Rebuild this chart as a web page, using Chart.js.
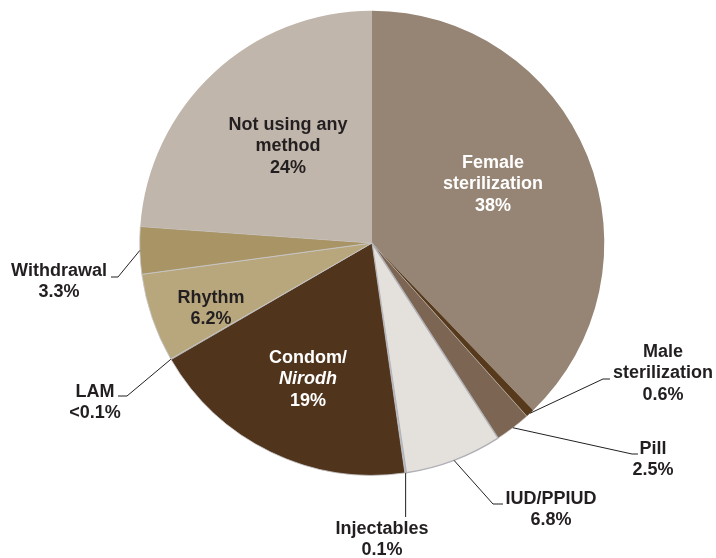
<!DOCTYPE html>
<html>
<head>
<meta charset="utf-8">
<script src="https://cdn.jsdelivr.net/npm/chart.js@4"></script>
<style>
  html, body { margin: 0; padding: 0; background: #fff; }
</style>
</head>
<body>
<canvas id="method-chart" width="716" height="558"></canvas>
<script>
// contraceptive method mix (%)
const methods = [
  'Female sterilization', 'Male sterilization', 'Pill', 'IUD/PPIUD', 'Injectables',
  'Condom/Nirodh', 'LAM', 'Rhythm', 'Withdrawal', 'Not using any method'
];
const shares = [38, 0.6, 2.5, 6.8, 0.1, 19, 0.05, 6.2, 3.3, 24];
const shareText = ['38%', '0.6%', '2.5%', '6.8%', '0.1%', '19%', '<0.1%', '6.2%', '3.3%', '24%'];

const sliceColors = [
  '#968474', '#573a1c', '#7c6653', '#e4e1dc', '#b4b8c2',
  '#50341b', '#8a8a8a', '#b8a77d', '#a99465', '#c0b6ac'
];

// label placement: lines of text, text centre, colour, optional leader elbow points
// (a null x in an elbow means "straight down from the slice")
const labelLayout = [
  { lines: ['Female', 'sterilization'], x: 493, y: 163, color: '#ffffff' },
  { lines: ['Male', 'sterilization'], x: 663, y: 352, color: '#231f20', leader: [[603, 379], [610, 379]] },
  { lines: ['Pill'], x: 653, y: 449, color: '#231f20', leader: [[632, 454], [638, 454]] },
  { lines: ['IUD/PPIUD'], x: 551, y: 499, color: '#231f20', leader: [[493, 504], [503, 504]] },
  { lines: ['Injectables'], x: 382, y: 529, color: '#231f20', leader: [[null, 517]] },
  { lines: ['Condom/', '*Nirodh'], x: 308, y: 358, color: '#ffffff' },
  { lines: ['LAM'], x: 95, y: 392, color: '#231f20', leader: [[127, 396], [118, 396]] },
  { lines: ['Rhythm'], x: 211, y: 298, color: '#231f20' },
  { lines: ['Withdrawal'], x: 59, y: 271, color: '#231f20', leader: [[118, 277], [111, 277]] },
  { lines: ['Not using any', 'method'], x: 288, y: 125, color: '#231f20' }
];

const sliceLabels = {
  id: 'sliceLabels',
  afterDatasetsDraw(chart) {
    const ctx = chart.ctx;
    const arcs = chart.getDatasetMeta(0).data;
    ctx.save();
    ctx.textAlign = 'center';
    ctx.textBaseline = 'middle';
    labelLayout.forEach((lab, i) => {
      const arc = arcs[i];
      if (lab.leader) {
        const p = arc.getProps(['x', 'y', 'startAngle', 'endAngle', 'outerRadius'], true);
        const mid = (p.startAngle + p.endAngle) / 2;
        const ax = p.x + Math.cos(mid) * p.outerRadius;
        const ay = p.y + Math.sin(mid) * p.outerRadius;
        ctx.beginPath();
        ctx.strokeStyle = '#231f20';
        ctx.lineWidth = 1;
        ctx.moveTo(ax, ay);
        lab.leader.forEach(pt => ctx.lineTo(pt[0] === null ? ax : pt[0], pt[1]));
        ctx.stroke();
      }
      const all = lab.lines.concat([shareText[i]]);
      ctx.fillStyle = lab.color;
      all.forEach((t, k) => {
        const italic = t.startsWith('*');
        ctx.font = (italic ? 'italic ' : '') + 'bold 18px "Liberation Sans", Arial, sans-serif';
        ctx.fillText(italic ? t.slice(1) : t, lab.x, lab.y + k * 21.3);
      });
    });
    ctx.restore();
  }
};

const methodChart = new Chart(document.getElementById('method-chart'), {
  type: 'pie',
  data: {
    labels: methods,
    datasets: [{
      data: shares,
      backgroundColor: sliceColors,
      borderColor: ['#968474', '#573a1c', '#c4c1bd', '#b0b0b6', '#b4b8c2', '#c8c8cc', '#8a8a8a', '#c8c8cc', '#c8c8cc', '#c0b6ac'],
      borderWidth: [0, 0, 0.6, 1.4, 0, 0.8, 0, 0.8, 0.8, 0]
    }]
  },
  options: {
    responsive: false,
    animation: false,
    layout: { padding: { top: 10, bottom: 82, left: 139, right: 111 } },
    plugins: {
      legend: { display: false },
      tooltip: { enabled: false }
    }
  },
  plugins: [sliceLabels]
});
</script>
</body>
</html>
